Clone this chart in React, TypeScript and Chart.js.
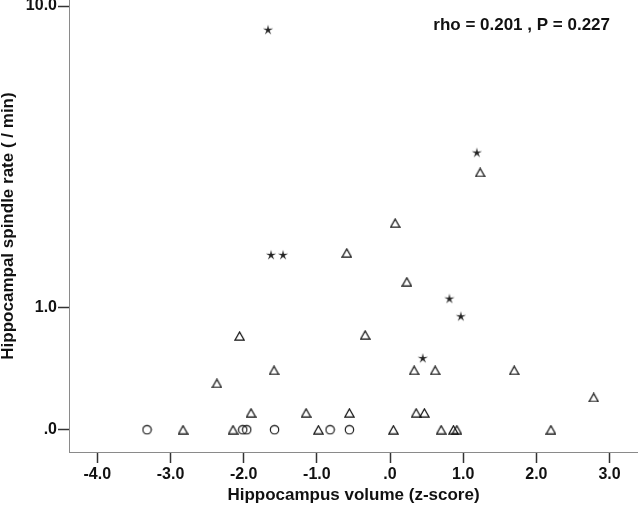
import { useEffect, useRef } from "react";
import { Chart, registerables } from "chart.js";

Chart.register(...registerables);

// ---- data ----
const X_TICKS = [-4, -3, -2, -1, 0, 1, 2, 3];
const Y_TICK_VALUES = [0, 1, 10];
const Y_TICK_LABELS = [".0", "1.0", "10.0"];

const X_TITLE = "Hippocampus volume (z-score)";
const Y_TITLE = "Hippocampal spindle rate ( / min)";
const STAT_TEXT = "rho = 0.201 , P = 0.227";

// star markers
const starX = [-1.667, -1.626, -1.462, 1.187, 0.812, 0.968, 0.448];
const starY = [8.62, 1.69, 1.69, 3.8, 1.1, 0.9, 0.5];

// triangle markers
const triX = [
  -2.829, -2.145, -0.979, 0.046, 0.699, 0.867, 0.913, 2.199,
  -1.899, -1.147, -0.555, 0.357, 0.47,
  -2.366, -1.585, -2.056, -0.591, 0.07, 0.23, -0.34, 0.33, 0.617, 1.697, 2.784, 1.232,
];
const triY = [
  0, 0, 0, 0, 0, 0, 0, 0,
  0.1, 0.1, 0.1, 0.1, 0.1,
  0.3, 0.4, 0.7, 1.72, 2.22, 1.31, 0.71, 0.4, 0.4, 0.4, 0.2, 3.29,
];

// circle markers
const circX = [-3.321, -2.013, -1.958, -1.578, -0.819, -0.555];
const circY = [0, 0, 0, 0, 0, 0];

const X_MIN = -4.387;
const X_MAX = 3.389;
const Y_MIN_T = -0.0548;
const Y_MAX_T = 1.0562;

const tr = (v: number) => Math.log10(v + 1);

const FONT = '"Liberation Sans", Arial, Helvetica, sans-serif';
const AXIS = "#8a8a8a";
const TICK = "#333333";
const TEXT = "#111111";

function makeTriangle() {
  const c = document.createElement("canvas");
  c.width = 11;
  c.height = 10;
  const ctx = c.getContext("2d")!;
  ctx.strokeStyle = "#111";
  ctx.lineWidth = 1.25;
  ctx.lineJoin = "miter";
  ctx.beginPath();
  ctx.moveTo(5.5, 1);
  ctx.lineTo(10, 9);
  ctx.lineTo(1, 9);
  ctx.closePath();
  ctx.stroke();
  return c;
}

function makeCircle() {
  const c = document.createElement("canvas");
  c.width = 11;
  c.height = 11;
  const ctx = c.getContext("2d")!;
  ctx.strokeStyle = "#111";
  ctx.lineWidth = 1.15;
  ctx.beginPath();
  ctx.arc(5.5, 5.5, 4.2, 0, Math.PI * 2);
  ctx.stroke();
  return c;
}

function makeStar() {
  const c = document.createElement("canvas");
  c.width = 12;
  c.height = 12;
  const ctx = c.getContext("2d")!;
  ctx.fillStyle = "#222";
  const cx = 6, cy = 6.3, ro = 5.4, ri = 1.6;
  ctx.beginPath();
  for (let i = 0; i < 10; i++) {
    const r = i % 2 === 0 ? ro : ri;
    const a = -Math.PI / 2 + (i * Math.PI) / 5;
    const px = cx + r * Math.cos(a);
    const py = cy + r * Math.sin(a);
    if (i === 0) ctx.moveTo(px, py);
    else ctx.lineTo(px, py);
  }
  ctx.closePath();
  ctx.fill();
  return c;
}

const toPts = (xs: number[], ys: number[]) => xs.map((x, i) => ({ x, y: tr(ys[i]) }));

export default function App() {
  const ref = useRef<HTMLCanvasElement | null>(null);

  useEffect(() => {
    if (!ref.current) return;
    const statPlugin = {
      id: "statText",
      afterDraw(chart: any) {
        const ctx = chart.ctx;
        ctx.save();
        ctx.font = `bold 17px ${FONT}`;
        ctx.fillStyle = TEXT;
        ctx.textAlign = "right";
        ctx.textBaseline = "middle";
        ctx.fillText(STAT_TEXT, 610, 25);
        ctx.restore();
      },
    };
    const chart = new Chart(ref.current, {
      type: "scatter",
      data: {
        datasets: [
          { label: "star", data: toPts(starX, starY), pointStyle: makeStar() as any, pointRadius: 5 },
          { label: "triangle", data: toPts(triX, triY), pointStyle: makeTriangle() as any, pointRadius: 5 },
          { label: "circle", data: toPts(circX, circY), pointStyle: makeCircle() as any, pointRadius: 5 },
        ],
      },
      plugins: [statPlugin],
      options: {
        animation: false,
        responsive: false,
        devicePixelRatio: 1,
        layout: { padding: 0, autoPadding: false },
        plugins: {
          legend: { display: false },
          tooltip: { enabled: false },
          title: { display: false },
        },
        scales: {
          x: {
            type: "linear",
            min: X_MIN,
            max: X_MAX,
            afterBuildTicks: (s: any) => {
              s.ticks = X_TICKS.map((v) => ({ value: v }));
            },
            afterFit: (s: any) => {
              s.height = 58;
              s.paddingLeft = 0;
              s.paddingRight = 0;
            },
            grid: {
              display: true,
              drawOnChartArea: false,
              drawTicks: true,
              tickLength: 11,
              tickColor: TICK,
              tickWidth: 1.5,
              color: AXIS,
            },
            border: { display: true, color: AXIS, width: 1 },
            ticks: {
              autoSkip: false,
              maxRotation: 0,
              padding: 2,
              color: TEXT,
              font: { family: FONT, size: 16, weight: "bold" },
              callback: (v: any) => (Number(v) === 0 ? ".0" : Number(v).toFixed(1)),
            },
            title: {
              display: true,
              text: X_TITLE,
              color: TEXT,
              font: { family: FONT, size: 17, weight: "bold" },
              padding: { top: 0, bottom: 4 },
            },
          },
          y: {
            type: "linear",
            min: Y_MIN_T,
            max: Y_MAX_T,
            afterBuildTicks: (s: any) => {
              s.ticks = Y_TICK_VALUES.map((v) => ({ value: tr(v) }));
            },
            afterFit: (s: any) => {
              s.width = 69;
              s.paddingTop = 0;
              s.paddingBottom = 0;
            },
            grid: {
              display: true,
              drawOnChartArea: false,
              drawTicks: true,
              tickLength: 11,
              tickColor: TICK,
              tickWidth: 1.5,
              color: AXIS,
            },
            border: { display: true, color: AXIS, width: 1 },
            ticks: {
              autoSkip: false,
              padding: 1,
              color: TEXT,
              font: { family: FONT, size: 16, weight: "bold" },
              callback: (_v: any, i: number) => Y_TICK_LABELS[i],
            },
            title: {
              display: true,
              text: Y_TITLE,
              color: TEXT,
              font: { family: FONT, size: 17, weight: "bold" },
              padding: { top: -2, bottom: 0 },
            },
          },
        },
      },
    } as any);
    return () => chart.destroy();
  }, []);

  return (
    <div style={{ position: "absolute", left: 0, top: 0, width: 638, height: 510, background: "#fff" }}>
      <canvas ref={ref} width={638} height={510} style={{ display: "block", width: 638, height: 510 }} />
    </div>
  );
}
